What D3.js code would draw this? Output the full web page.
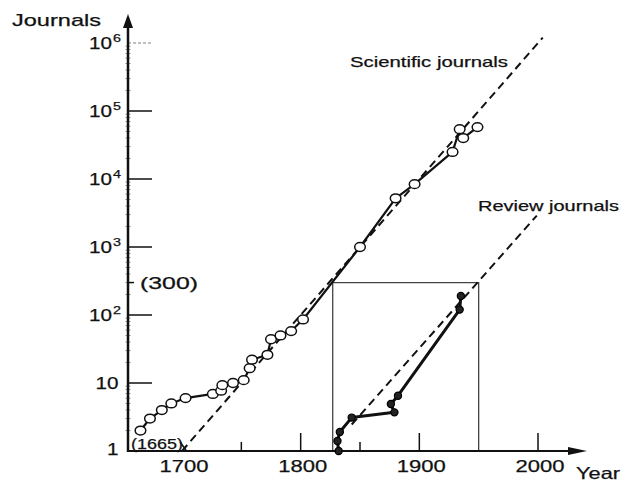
<!DOCTYPE html>
<html>
<head>
<meta charset="utf-8">
<script src="https://cdn.jsdelivr.net/npm/d3@7"></script>
<style>
  html, body { margin: 0; padding: 0; background: #fff; }
  svg { display: block; }
  text { font-family: "Liberation Sans", Arial, Helvetica, sans-serif; fill: #111; stroke: #111; stroke-width: 0.25; }
</style>
</head>
<body>
<svg id="chart" width="622" height="481"></svg>
<script>
// ---------- data ----------
const sciYears    = [1665, 1673, 1683, 1691, 1703, 1726, 1733, 1734, 1743, 1752, 1757, 1759, 1772, 1775, 1783, 1792, 1802, 1850, 1880, 1896, 1928, 1934, 1937, 1949];
const sciJournals = [2, 3, 4, 5, 6, 6.9, 7.7, 9.3, 10, 11, 16.5, 22, 26, 44, 50, 58, 86, 1000, 5200, 8400, 25000, 54000, 40000, 58000];

const revYears    = [1832, 1831, 1833, 1843, 1879, 1876, 1882, 1934, 1935];
const revJournals = [1, 1.4, 1.9, 3.1, 3.7, 4.9, 6.5, 120, 190];

const sciTrendYears  = [1700, 2004];
const sciTrendValues = [1, 1.2e6];
const revTrendYears  = [1843, 1999];
const revTrendValues = [2.45, 2900];

const boxYears = [1827, 1950];
const boxValue = 300;

const yTickValues = [1, 10, 100, 1e3, 1e4, 1e5, 1e6];
const yTickBase   = ["1", "10", "10", "10", "10", "10", "10"];
const yTickExp    = ["", "", "2", "3", "4", "5", "6"];
const xMajorTicks = [1800, 1900, 2000];
const xTickLabels = ["1700", "1800", "1900", "2000"];
const xLabelYears = [1700, 1800, 1900, 2000];
const xMinorTicks = [1750, 1850];

// ---------- scales ----------
const svg = d3.select("#chart");
const x = d3.scaleLinear().domain([1700, 2000]).range([182, 538]);
const y = d3.scaleLog().domain([1, 1e6]).range([451, 43]);
const axisX = 128, axisY = y(1);

// ---------- helpers ----------
function fitText(str, px, py, size, anchor, len) {
  return svg.append("text")
    .attr("x", px).attr("y", py)
    .attr("text-anchor", anchor)
    .attr("font-size", size)
    .attr("textLength", len)
    .attr("lengthAdjust", "spacingAndGlyphs")
    .text(str);
}

// ---------- box ----------
svg.append("path")
  .attr("d", d3.line()([[x(boxYears[0]), axisY], [x(boxYears[0]), y(boxValue)], [x(boxYears[1]), y(boxValue)], [x(boxYears[1]), axisY]]))
  .attr("fill", "none").attr("stroke", "#444").attr("stroke-width", 1.3);

// ---------- trend lines ----------
const lineGen = d3.line().x(d => x(d[0])).y(d => y(d[1]));
svg.append("path")
  .attr("d", lineGen(d3.zip(sciTrendYears, sciTrendValues)))
  .attr("fill", "none").attr("stroke", "#111").attr("stroke-width", 2)
  .attr("stroke-dasharray", "8,5");
svg.append("path")
  .attr("d", lineGen(d3.zip(revTrendYears, revTrendValues)))
  .attr("fill", "none").attr("stroke", "#111").attr("stroke-width", 2)
  .attr("stroke-dasharray", "8,5");

// ---------- axes ----------
const minor = [];
for (let e = 0; e < 6; e++) for (let m = 2; m <= 9; m++) minor.push(m * Math.pow(10, e));
svg.selectAll(".ymin").data(minor).enter().append("line")
  .attr("x1", axisX - 2.5).attr("x2", axisX + 2.5)
  .attr("y1", d => y(d)).attr("y2", d => y(d))
  .attr("stroke", "#666").attr("stroke-width", 0.7);

svg.selectAll(".ymaj").data(yTickValues.slice(1)).enter().append("line")
  .attr("x1", axisX).attr("x2", axisX + 24)
  .attr("y1", d => y(d)).attr("y2", d => y(d))
  .attr("stroke", d => d === 1e6 ? "#aaa" : "#111")
  .attr("stroke-dasharray", d => d === 1e6 ? "3,2" : null)
  .attr("stroke-width", 1.5);

svg.append("line").attr("x1", axisX).attr("x2", axisX + 6)
  .attr("y1", y(boxValue)).attr("y2", y(boxValue)).attr("stroke", "#111").attr("stroke-width", 1.5);

svg.selectAll(".xmaj").data(xMajorTicks).enter().append("line")
  .attr("x1", d => x(d)).attr("x2", d => x(d))
  .attr("y1", axisY).attr("y2", axisY - 18)
  .attr("stroke", "#111").attr("stroke-width", 1.5);
svg.selectAll(".xmin").data(xMinorTicks).enter().append("line")
  .attr("x1", d => x(d)).attr("x2", d => x(d))
  .attr("y1", axisY).attr("y2", axisY - 9)
  .attr("stroke", "#111").attr("stroke-width", 1.5);

svg.append("line").attr("x1", axisX).attr("x2", axisX).attr("y1", axisY + 1).attr("y2", 24)
  .attr("stroke", "#111").attr("stroke-width", 2.5);
svg.append("path").attr("d", `M${axisX - 5},28 L${axisX},14 L${axisX + 5},28 Z`).attr("fill", "#111");
svg.append("line").attr("x1", axisX).attr("x2", 572).attr("y1", axisY).attr("y2", axisY)
  .attr("stroke", "#111").attr("stroke-width", 2);
svg.append("path").attr("d", `M568,${axisY - 4} L587,${axisY} L568,${axisY + 4} Z`).attr("fill", "#111");

// y tick labels
yTickValues.forEach((v, i) => {
  const yy = y(v) + 6;
  if (yTickExp[i]) {
    fitText(yTickBase[i], 112, yy, 17, "end", 23);
    fitText(yTickExp[i], 113, yy - 7, 11.5, "start", 8);
  } else {
    fitText(yTickBase[i], 118.5, i === 0 ? yy - 2 : yy, 17, "end", yTickBase[i].length * 11.5);
  }
});

// x tick labels
xLabelYears.forEach((yr, i) => {
  fitText(xTickLabels[i], x(yr) + 2, 472, 17, "middle", 49);
});

// titles and annotations
fitText("Journals", 12, 26, 17, "start", 89);
fitText("Year", 576, 479, 16.5, "start", 44);
fitText("(300)", 140, 288.5, 16.5, "start", 58);
fitText("(1665)", 131, 448.5, 14.5, "start", 52);
svg.append("line").attr("x1", 180).attr("y1", 442).attr("x2", 186).attr("y2", 450)
  .attr("stroke", "#111").attr("stroke-width", 1.5);
fitText("Scientific journals", 350, 67, 14.5, "start", 158);
fitText("Review journals", 478, 210.5, 14.5, "start", 141);

// ---------- data lines ----------
svg.append("path")
  .attr("d", lineGen(d3.zip(sciYears, sciJournals)))
  .attr("fill", "none").attr("stroke", "#111").attr("stroke-width", 2.2)
  .attr("stroke-linejoin", "round");
svg.append("path")
  .attr("d", lineGen(d3.zip(revYears, revJournals)))
  .attr("fill", "none").attr("stroke", "#111").attr("stroke-width", 3)
  .attr("stroke-linejoin", "round");

svg.selectAll(".sci").data(d3.zip(sciYears, sciJournals)).enter().append("ellipse")
  .attr("cx", d => x(d[0])).attr("cy", d => y(d[1]))
  .attr("rx", 5.3).attr("ry", 4.4)
  .attr("fill", "#fff").attr("stroke", "#111").attr("stroke-width", 1.5);
svg.selectAll(".rev").data(d3.zip(revYears, revJournals)).enter().append("circle")
  .attr("cx", d => x(d[0])).attr("cy", d => y(d[1]))
  .attr("r", 3.6)
  .attr("fill", "#222").attr("stroke", "#000").attr("stroke-width", 1.2);
</script>
</body>
</html>
